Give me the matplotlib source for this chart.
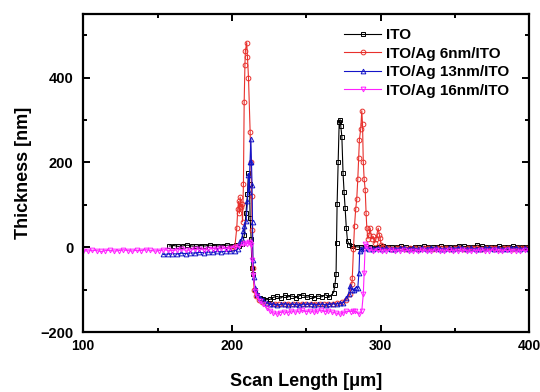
import numpy as np
import matplotlib
matplotlib.use("Agg")
import matplotlib.pyplot as plt

plt.rcParams['font.family'] = ['Liberation Sans', 'DejaVu Sans']
plt.rcParams['font.weight'] = 'bold'

# ITO
ito_x = [158, 161, 164, 167, 170, 173, 176, 179, 182, 185, 188, 191, 194, 197, 200, 203,
         205, 207, 208.5, 209.5, 210.5, 211.2, 211.9, 212.3, 213, 213.5, 214.5, 215.6, 217, 219, 221, 223,
         225.8, 228, 230.5, 233, 235.5, 238, 240.5, 243, 245.5, 248, 250.5, 253, 255.5, 258, 260.5, 263, 265.5, 268.4,
         269.3, 270.1, 270.4, 270.8, 271.5, 272.2, 272.8, 273.3, 274, 274.8, 275.5, 276.2, 277, 277.8, 279, 281,
         284, 287, 290, 293, 296, 299, 302, 305, 308, 311, 314, 317, 320, 323, 326, 329, 332, 335, 338, 341,
         344, 347, 350, 353, 356, 359, 362, 365, 368, 371, 374, 377, 380, 383, 386, 389, 392, 395, 398]
ito_y = [3, 4, 2, 3, 5, 3, 2, 4, 3, 5, 4, 3, 4, 5, 4, 5,
         4, 8, 30, 80, 125, 174, 150, 68, 20, -49, -64, -100, -112, -120, -122, -124,
         -123, -118, -116, -120, -113, -117, -115, -119, -114, -113, -118, -116, -119, -115, -117, -112, -118, -107,
         -90, -64, 10, 101, 200, 296, 301, 285, 261, 174, 130, 92, 45, 15, 6, 2,
         1, 0, 2, 1, -1, 0, 2, 1, 0, 1, 2, 0, -1, 1, 0, 2, 1, 0, 1, 2,
         1, 0, 1, 3, 2, 1, 0, 5, 2, 1, 0, 1, 2, 0, 1, 2, 1, 0, 1]

# ITO/Ag 6nm/ITO
ag6_x = [198, 200, 202, 203.3, 204, 204.5, 205.1, 205.6, 206.2, 206.7, 207.2, 207.8, 208.3, 208.8, 209.1, 210.0,
         210.5, 211.2, 212.3, 212.8, 213.3, 213.7, 214.2, 215, 216, 218,
         220, 223, 226, 229, 232, 235, 238, 241, 244, 247, 250, 253, 256, 259, 262, 265, 268, 271, 274, 277,
         279.5, 280.7, 281, 281.8, 282.5, 283.3, 284, 284.7, 285.3, 285.8, 286.7, 287.4, 287.9, 288.4, 289, 289.7,
         290.3, 290.8, 291.5, 292.3, 293, 294, 295, 296, 297, 298.4, 299.2, 299.7, 300.5, 302,
         305, 308, 311, 314, 317, 320, 323, 326, 329, 332, 335, 338, 341, 344, 347, 350,
         353, 356, 359, 362, 365, 368, 371, 374, 377, 380, 383, 386, 389, 392, 395, 398]
ag6_y = [-3, -2, 0, 45, 90, 108, 80, 118, 95, 101, 60, 150, 343, 430, 463, 483,
         449, 400, 273, 200, 120, 40, -50, -100, -115, -125,
         -130, -133, -134, -133, -135, -134, -133, -135, -134, -133, -134, -135, -133, -134, -135, -133, -134, -132, -130, -125,
         -110, -87, -73, -5, 50, 90, 113, 160, 210, 254, 280, 322, 290, 202, 160, 136,
         80, 45, 20, 30, 45, 20, 26, 10, 20, 45, 30, 21, 5, 0,
         -2, -3, -2, -1, -3, -2, -2, -3, -1, -2, -3, -2, -2, -1, -3, -2,
         -2, -3, -2, -1, -2, -3, -2, -2, -1, -3, -2, -2, -3, -2, -1, -2]

# ITO/Ag 13nm/ITO
ag13_x = [154, 157, 160, 163, 166, 169, 172, 175, 178, 181, 184, 187, 190, 193, 196, 199, 202,
          204, 205.6, 206.5, 207.8, 208.5, 209.6, 210.5, 211.2, 211.6, 212.2, 212.8, 213.2, 213.6, 213.9,
          214.2, 214.8, 215.5, 217, 219, 221, 223.5, 225.8,
          228, 230.5, 233, 235.5, 238, 240.5, 243, 245.5, 248, 250.5, 253, 255.5, 258, 260.5, 263, 265.5, 268, 270.5, 273,
          275, 277.1, 278.5, 279.5, 280.6, 282, 283.5, 284.7, 285.5, 286, 287,
          289, 292, 295, 298, 301, 304, 307, 310, 313, 316, 319, 322, 325, 328, 331, 334, 337, 340, 343,
          346, 349, 352, 355, 358, 361, 364, 367, 370, 373, 376, 379, 382, 385, 388, 391, 394, 397, 400]
ag13_y = [-17, -16, -15, -16, -14, -15, -13, -14, -12, -13, -11, -12, -10, -11, -9, -10, -8,
          -5, 14, 20, 38, 50, 61, 108, 171, 130, 200, 256, 200, 148, 60,
          -30, -70, -95, -110, -119, -125, -131, -135,
          -134, -136, -135, -133, -136, -134, -135, -137, -134, -135, -133, -136, -135, -134, -136, -135, -133, -134, -132,
          -131, -119, -110, -92, -100, -100, -95, -96, -60, -9, -3,
          -2, -4, -3, -1, -3, -2, -4, -3, -2, -1, -3, -2, -4, -2, -3, -1, -2, -3, -4,
          -2, -3, -1, -2, -3, -2, -4, -3, -2, -1, -3, -2, -4, -3, -2, -1, -3, -2, -3]

# ITO/Ag 16nm/ITO
ag16_x = [100, 103, 106, 109, 112, 115, 118, 121, 124, 127, 130, 133, 136, 139, 142, 145, 148, 151,
          154, 157, 160, 163, 166, 169, 172, 175, 178, 181, 184, 187, 190, 193, 196, 199, 202, 205,
          207.6, 209, 210.5, 211.5, 212.5, 213.2, 213.8, 214.5, 215.6, 217, 219, 221, 223.4, 226, 228, 230.2,
          232.5, 235, 237.5, 240, 242.5, 245, 247.5, 250, 252.5, 255, 257.5, 260, 262.5, 265, 267.5, 270, 272.5,
          275, 277, 280, 281.6, 283, 285.6, 287.4, 288.4, 289, 289.7, 290.5, 292,
          295, 298, 301, 304, 307, 310, 313, 316, 319, 322, 325, 328, 331, 334, 337, 340, 343, 346,
          349, 352, 355, 358, 361, 364, 367, 370, 373, 376, 379, 382, 385, 388, 391, 394, 397, 400]
ag16_y = [-8, -9, -7, -8, -10, -8, -7, -9, -8, -6, -8, -9, -7, -8, -6, -7, -9, -8,
          -6, -7, -8, -6, -5, -7, -6, -5, -4, -6, -5, -3, -4, -2, -3, -1, 0, 2,
          7, 10, 8, 12, 10, 5, -30, -65, -104, -115, -127, -135, -143, -150, -155, -158,
          -154, -152, -155, -150, -153, -151, -149, -152, -150, -153, -151, -148, -152, -150, -153, -155, -158,
          -155, -151, -152, -150, -151, -158, -150, -111, -60, 7, 3, -5,
          -8, -7, -9, -8, -6, -8, -9, -7, -8, -10, -8, -7, -9, -8, -6, -8, -9, -7,
          -8, -9, -7, -8, -10, -8, -7, -9, -8, -6, -8, -9, -7, -8, -9, -8, -7, -8]

labels = ['ITO', 'ITO/Ag 6nm/ITO', 'ITO/Ag 13nm/ITO', 'ITO/Ag 16nm/ITO']

fig = plt.figure(figsize=(5.4, 3.92), dpi=100)
ax = fig.add_axes([0.154, 0.153, 0.826, 0.811])

kw = dict(lw=0.8, ms=3.4, mew=0.7, mfc='none')
ax.plot(ito_x, ito_y, '-s', color='black', label=labels[0], **kw)
ax.plot(ag6_x, ag6_y, '-o', color='#e8302c', label=labels[1], **kw)
ax.plot(ag13_x, ag13_y, '-^', color='#1414c8', label=labels[2], **kw)
ax.plot(ag16_x, ag16_y, '-v', color='#ff20ff', label=labels[3], **kw)

ax.set_xlim(100, 400)
ax.set_ylim(-200, 550)
ax.set_xticks([100, 200, 300, 400])
ax.set_xticks([150, 250, 350], minor=True)
ax.set_yticks([-200, 0, 200, 400])
ax.set_yticks([-100, 100, 300, 500], minor=True)
ax.tick_params(which='both', direction='in', top=True, right=True, width=1.4)
ax.tick_params(which='major', length=5, labelsize=10.5)
ax.tick_params(which='minor', length=3)
ax.tick_params(axis='x', pad=5, labelsize=10)
ax.tick_params(axis='y', pad=7)
for s in ax.spines.values():
    s.set_linewidth(1.6)

ax.set_xlabel('Scan Length [\u03bcm]', fontsize=13, fontweight='bold')
ax.set_ylabel('Thickness [nm]', fontsize=13, fontweight='bold')
ax.xaxis.set_label_coords(0.5, -0.13)
ax.yaxis.set_label_coords(-0.115, 0.5)

ax.legend(loc='upper right', bbox_to_anchor=(0.975, 0.985), frameon=False, numpoints=1,
          fontsize=11, handlelength=2.4, handletextpad=0.3, labelspacing=0.3,
          borderaxespad=0.2)

fig.savefig('out.png', dpi=100)
